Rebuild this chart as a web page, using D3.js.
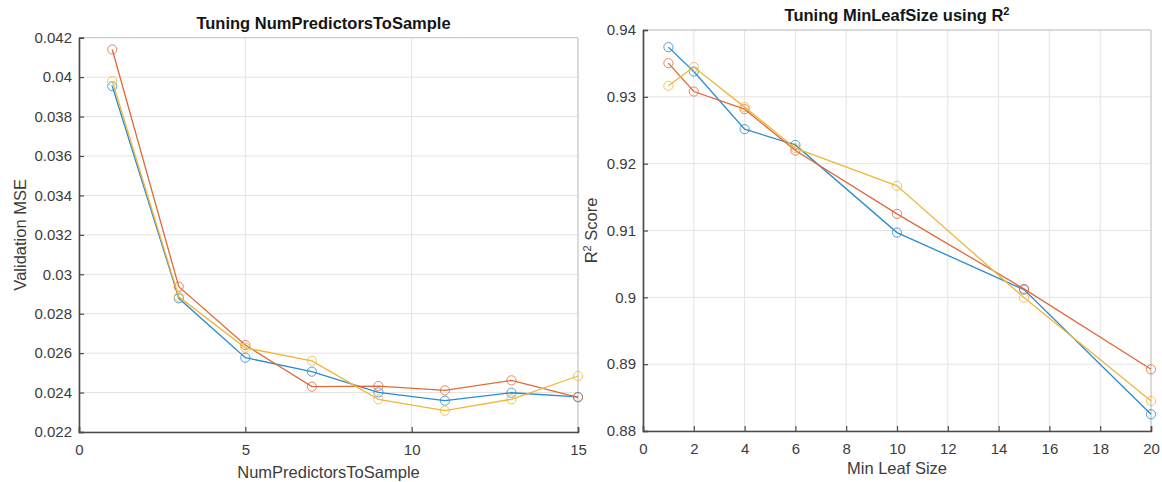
<!DOCTYPE html>
<html>
<head>
<meta charset="utf-8">
<script src="https://cdn.jsdelivr.net/npm/d3@7"></script>
<style>
  html, body { margin: 0; padding: 0; background: #fff; }
  svg { display: block; font-family: "Liberation Sans", Arial, Helvetica, sans-serif; }
</style>
</head>
<body>
<svg id="chart" width="1162" height="482"></svg>
<script>
// ---------- Data ----------
// Left panel: NumPredictorsToSample vs validation MSE
const predictors = [1, 3, 5, 7, 9, 11, 13, 15];
const mseSeries1 = [0.03954, 0.02878, 0.02577, 0.02506, 0.02401, 0.02359, 0.02399, 0.02378];
const mseSeries2 = [0.04140, 0.02937, 0.02641, 0.02430, 0.02433, 0.02411, 0.02462, 0.02376];
const mseSeries3 = [0.03980, 0.02886, 0.02627, 0.02561, 0.02366, 0.02308, 0.02366, 0.02484];
const leftXTicks = [0, 5, 10, 15];
const leftXTickLabels = ["0", "5", "10", "15"];
const leftYTicks = [0.022, 0.024, 0.026, 0.028, 0.030, 0.032, 0.034, 0.036, 0.038, 0.040, 0.042];
const leftYTickLabels = ["0.022", "0.024", "0.026", "0.028", "0.03", "0.032", "0.034", "0.036", "0.038", "0.04", "0.042"];

// Right panel: MinLeafSize vs R^2
const leafSizes = [1, 2, 4, 6, 10, 15, 20];
const r2Series1 = [0.93744, 0.93379, 0.92516, 0.92281, 0.90969, 0.90115, 0.88250];
const r2Series2 = [0.93504, 0.93079, 0.92815, 0.92196, 0.91249, 0.90126, 0.88923];
const r2Series3 = [0.93165, 0.93445, 0.92846, 0.92232, 0.91668, 0.89996, 0.88449];
const rightXTicks = [0, 2, 4, 6, 8, 10, 12, 14, 16, 18, 20];
const rightXTickLabels = ["0", "2", "4", "6", "8", "10", "12", "14", "16", "18", "20"];
const rightYTicks = [0.88, 0.89, 0.90, 0.91, 0.92, 0.93, 0.94];
const rightYTickLabels = ["0.88", "0.89", "0.9", "0.91", "0.92", "0.93", "0.94"];

const seriesColors = ["#2b8bd0", "#e0693a", "#efb73a"];

// ---------- Drawing ----------
const svg = d3.select("#chart");

function drawPanel(cfg) {
  const g = svg.append("g");
  const x = d3.scaleLinear().domain(cfg.xDomain).range([cfg.left, cfg.right]);
  const y = d3.scaleLinear().domain(cfg.yDomain).range([cfg.bottom, cfg.top]);

  // grid
  g.append("g").selectAll("line.vx").data(cfg.xTicks).join("line")
    .attr("x1", d => x(d)).attr("x2", d => x(d))
    .attr("y1", cfg.top).attr("y2", cfg.bottom)
    .attr("stroke", "#e3e3e3").attr("stroke-width", 1);
  g.append("g").selectAll("line.hy").data(cfg.yTicks).join("line")
    .attr("y1", d => y(d)).attr("y2", d => y(d))
    .attr("x1", cfg.left).attr("x2", cfg.right)
    .attr("stroke", "#e3e3e3").attr("stroke-width", 1);

  // top & right box (light)
  g.append("line").attr("x1", cfg.left).attr("x2", cfg.right).attr("y1", cfg.top).attr("y2", cfg.top)
    .attr("stroke", "#c4c4c4").attr("stroke-width", 1);
  g.append("line").attr("x1", cfg.right).attr("x2", cfg.right).attr("y1", cfg.top).attr("y2", cfg.bottom)
    .attr("stroke", "#c4c4c4").attr("stroke-width", 1);

  // axes via d3 axis generators (inward ticks)
  const xAxis = d3.axisBottom(x).tickValues(cfg.xTicks).tickSize(-5).tickPadding(10)
    .tickFormat((d, i) => cfg.xTickLabels[i]);
  const yAxis = d3.axisLeft(y).tickValues(cfg.yTicks).tickSize(-5).tickPadding(12)
    .tickFormat((d, i) => cfg.yTickLabels[i]);

  const gx = g.append("g").attr("transform", `translate(0,${cfg.bottom})`).call(xAxis);
  const gy = g.append("g").attr("transform", `translate(${cfg.left},0)`).call(yAxis);
  [gx, gy].forEach(a => {
    a.select(".domain").attr("stroke", "#4a4a4a").attr("stroke-width", 1.6);
    a.selectAll(".tick line").attr("stroke", "#4a4a4a").attr("stroke-width", 1.2);
    a.selectAll(".tick text").attr("fill", "#3c3c3c").style("font-size", "15px")
      .style("font-family", '"Liberation Sans", Arial, sans-serif');
  });
  gx.selectAll(".tick text").attr("dy", "0.71em").attr("y", 12);
  gy.selectAll(".tick text").attr("x", -7);

  // series
  const line = d3.line().x(d => x(d[0])).y(d => y(d[1]));
  cfg.series.forEach((vals, si) => {
    const pts = cfg.xs.map((xv, i) => [xv, vals[i]]);
    g.append("path").datum(pts).attr("d", line)
      .attr("fill", "none").attr("stroke", seriesColors[si]).attr("stroke-width", 1.3);
    g.append("g").selectAll("circle").data(pts).join("circle")
      .attr("cx", d => x(d[0])).attr("cy", d => y(d[1])).attr("r", 4.6)
      .attr("fill", "none").attr("stroke", seriesColors[si])
      .attr("stroke-width", 1).attr("stroke-opacity", 0.8);
  });

  // title
  const t = g.append("text")
    .attr("x", (cfg.left + cfg.right) / 2 + cfg.titleDx).attr("y", cfg.top - 9)
    .attr("text-anchor", "middle").attr("fill", "#151515")
    .style("font-size", "16.5px").style("font-weight", "bold");
  t.append("tspan").text(cfg.title);
  if (cfg.titleSup) {
    t.append("tspan").text(cfg.titleSup).attr("dy", -6).style("font-size", "11px");
  }

  // x label
  g.append("text")
    .attr("x", (cfg.left + cfg.right) / 2).attr("y", cfg.bottom + cfg.xLabelDy)
    .attr("text-anchor", "middle").attr("fill", "#3c3c3c")
    .style("font-size", "16.5px").text(cfg.xLabel);

  // y label
  const yl = g.append("text")
    .attr("transform", `translate(${cfg.yLabelX},${(cfg.top + cfg.bottom) / 2}) rotate(-90)`)
    .attr("text-anchor", "middle").attr("fill", "#3c3c3c")
    .style("font-size", "16.5px");
  cfg.yLabel.forEach(part => {
    const ts = yl.append("tspan").text(part.text);
    if (part.sup) ts.attr("dy", -6).style("font-size", "11px");
    if (part.after) ts.attr("dy", 6);
  });
}

drawPanel({
  left: 79, right: 578, top: 37.7, bottom: 432,
  xDomain: [0, 15], yDomain: [0.022, 0.042],
  xTicks: leftXTicks, xTickLabels: leftXTickLabels,
  yTicks: leftYTicks, yTickLabels: leftYTickLabels,
  xs: predictors, series: [mseSeries1, mseSeries2, mseSeries3],
  title: "Tuning NumPredictorsToSample", titleSup: null, titleDx: -5,
  xLabel: "NumPredictorsToSample", xLabelDy: 46,
  yLabel: [{ text: "Validation MSE" }], yLabelX: 26
});

drawPanel({
  left: 643, right: 1151, top: 30, bottom: 431,
  xDomain: [0, 20], yDomain: [0.88, 0.94],
  xTicks: rightXTicks, xTickLabels: rightXTickLabels,
  yTicks: rightYTicks, yTickLabels: rightYTickLabels,
  xs: leafSizes, series: [r2Series1, r2Series2, r2Series3],
  title: "Tuning MinLeafSize using R", titleSup: "2", titleDx: 0,
  xLabel: "Min Leaf Size", xLabelDy: 43,
  yLabel: [{ text: "R" }, { text: "2", sup: true }, { text: " Score", after: true }], yLabelX: 597
});
</script>
</body>
</html>
